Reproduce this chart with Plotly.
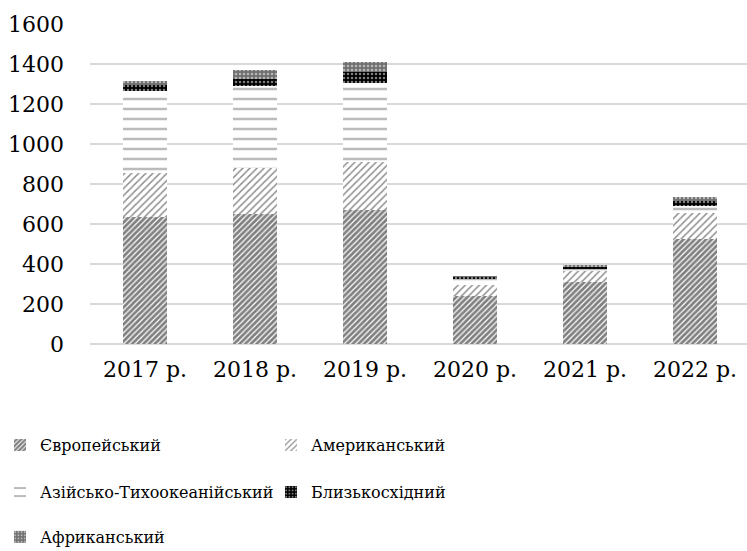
import plotly.graph_objects as go

# Categories (years) and regional values
years = ["2017 р.", "2018 р.", "2019 р.", "2020 р.", "2021 р.", "2022 р."]
europe = [633, 650, 670, 240, 312, 525]
america = [223, 228, 242, 55, 55, 128]
asia_pacific = [411, 412, 391, 30, 10, 37]
middle_east = [30, 33, 59, 10, 10, 25]
africa = [20, 47, 50, 5, 5, 18]

SERIF = "DejaVu Serif, serif"

# name, values, fill pattern, legend row
series = [
    ("Європейський", europe, dict(shape="/", fgcolor="#000000", bgcolor="#ffffff", size=4, solidity=0.7), "legend"),
    ("Американський", america, dict(shape="/", fgcolor="#222222", bgcolor="#ffffff", size=5, solidity=0.3), "legend"),
    ("Азійсько-Тихоокеанійський", asia_pacific, dict(shape="-", fgcolor="#777777", bgcolor="#ffffff", size=10, solidity=0.25), "legend2"),
    ("Близькосхідний", middle_east, dict(shape=".", fgcolor="#ffffff", bgcolor="#000000", size=4, solidity=0.3), "legend2"),
    ("Африканський", africa, dict(shape=".", fgcolor="#ffffff", bgcolor="#707070", size=4, solidity=0.3), "legend3"),
]

fig = go.Figure()
for name, vals, pat, lg in series:
    fig.add_trace(go.Bar(
        x=years, y=vals, name=name, width=0.4, legend=lg,
        marker=dict(color=pat["bgcolor"], pattern=pat, line=dict(width=0)),
    ))

legend_common = dict(
    orientation="h", x=-0.137, xanchor="left", yanchor="middle",
    entrywidth=226, entrywidthmode="pixels", itemwidth=30,
    font=dict(family=SERIF, size=16, color="#000000"), traceorder="normal",
    bgcolor="rgba(0,0,0,0)",
)

fig.update_layout(
    barmode="stack",
    width=747, height=551,
    margin=dict(l=90, r=0, t=24, b=207, autoexpand=False),
    plot_bgcolor="#ffffff", paper_bgcolor="#ffffff",
    font=dict(family=SERIF, size=22, color="#000000"),
    showlegend=True,
    legend=dict(legend_common, y=-0.316),
    legend2=dict(legend_common, y=-0.463),
    legend3=dict(legend_common, y=-0.603),
    xaxis=dict(range=[-0.5, 5.473], showgrid=False, showline=False, ticks="",
               ticklabelstandoff=10),
    yaxis=dict(range=[0, 1600], dtick=200, showgrid=True, gridcolor="#d9d9d9",
               gridwidth=1.5, zeroline=True, zerolinecolor="#d9d9d9",
               zerolinewidth=1.5, showline=False, ticks="", ticklabelstandoff=25),
)

fig.write_html("out.html")
